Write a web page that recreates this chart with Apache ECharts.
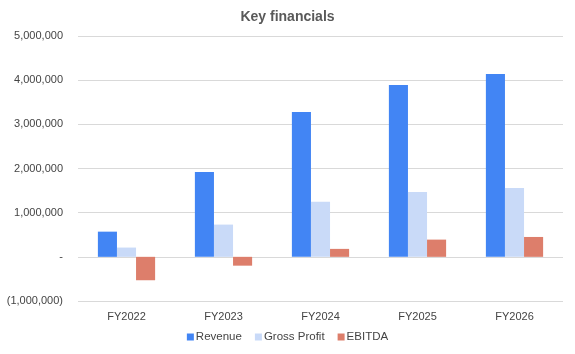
<!DOCTYPE html>
<html>
<head>
<meta charset="utf-8">
<script src="https://cdn.jsdelivr.net/npm/echarts@6/dist/echarts.min.js"></script>
<style>
  html, body { margin: 0; padding: 0; background: #fff; }
  #chart { width: 575px; height: 354px; }
</style>
</head>
<body>
<div id="chart"></div>
<script>
// chart data
var years = ['FY2022', 'FY2023', 'FY2024', 'FY2025', 'FY2026'];
var revenue = [570000, 1920000, 3280000, 3890000, 4140000];
var grossProfit = [210000, 730000, 1250000, 1470000, 1560000];
var ebitda = [-530000, -200000, 180000, 390000, 450000];

function fmt(v) {
    if (v === 0) return '-';
    var s = Math.abs(v).toString().replace(/\B(?=(\d{3})+(?!\d))/g, ',');
    return v < 0 ? '(' + s + ')' : s;
}

var font = 'Arial, Liberation Sans';
var chart = echarts.init(document.getElementById('chart'));
chart.setOption({
    animation: false,
    title: {
        text: 'Key financials',
        left: 'center',
        top: 5,
        textStyle: { fontFamily: font, fontSize: 14, fontWeight: 'bold', color: '#595959' }
    },
    legend: {
        bottom: 6,
        left: 'center',
        itemWidth: 7,
        itemHeight: 7,
        itemGap: 13,
        icon: 'rect',
        textStyle: { fontFamily: font, fontSize: 11.5, color: '#444', padding: [0, 0, 0, -3] },
        data: ['Revenue', 'Gross Profit', 'EBITDA']
    },
    grid: { left: 78, right: 12, top: 36, bottom: 53 },
    xAxis: {
        type: 'category',
        data: years,
        axisLine: { show: false },
        axisTick: { show: false },
        axisLabel: { color: '#444', fontSize: 11, fontFamily: font, margin: 10 }
    },
    yAxis: {
        type: 'value',
        min: -1000000,
        max: 5000000,
        interval: 1000000,
        axisLine: { show: false },
        axisTick: { show: false },
        axisLabel: { color: '#444', fontSize: 11, fontFamily: font, margin: 15, formatter: fmt },
        splitLine: { lineStyle: { color: '#d9d9d9', width: 1 } }
    },
    series: [
        { name: 'Revenue', type: 'bar', data: revenue, itemStyle: { color: '#4285f4' }, barGap: 0, barCategoryGap: '41%' },
        { name: 'Gross Profit', type: 'bar', data: grossProfit, itemStyle: { color: '#c9daf8' } },
        { name: 'EBITDA', type: 'bar', data: ebitda, itemStyle: { color: '#dd7e6b' } }
    ]
});
</script>
</body>
</html>
